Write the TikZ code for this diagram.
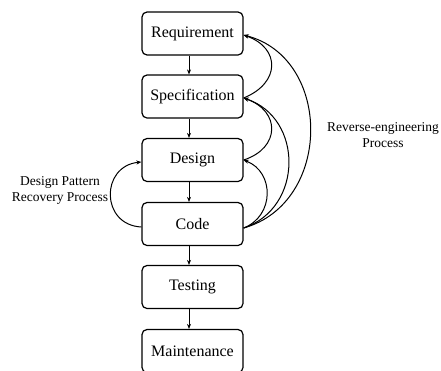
\documentclass[tikz,border=0pt]{standalone}
\usepackage{fontspec}
\setmainfont{Liberation Serif}
\usetikzlibrary{arrows.meta}
\begin{document}
\begin{tikzpicture}[x=1pt,y=-1pt,
  stage/.style={draw,line width=1.2pt,rounded corners=5pt,minimum width=101pt,minimum height=43pt,inner sep=0pt,font=\fontsize{16}{18}\selectfont},
  flow/.style={line width=1pt,-{Stealth[length=5pt,width=4pt]}},
  lbl/.style={align=center,font=\fontsize{13.5}{16}\selectfont}]
\useasboundingbox (0,0) rectangle (441,370);
\node[stage] (req) at (192.5,33.5) {Requirement};
\node[stage] (spec) at (192.5,96.5) {Specification};
\node[stage] (design) at (192.5,160) {Design};
\node[stage] (code) at (192.5,224) {Code};
\node[stage] (test) at (192.5,287) {Testing};
\node[stage] (maint) at (192.5,351) {Maintenance};
\foreach \a/\b in {req/spec,spec/design,design/code,code/test,test/maint}
  \draw[flow] ([xshift=-3.5pt]\a.south) -- ([xshift=-3.5pt]\b.north);
% right side reverse-engineering curves
\coordinate (cs) at ([yshift=-4pt]code.east);
\draw[flow] ([yshift=-1.5pt]spec.east) .. controls +(37,-15) and +(37,13) .. ([yshift=-1.5pt]req.east);
\draw[flow] (design.east) .. controls +(37,-12) and +(37,13) .. ([yshift=-1.5pt]spec.east);
\draw[flow] (cs) .. controls +(31,-12) and +(31,12) .. (design.east);
\draw[flow] (cs) .. controls +(60,-20) and +(60,20) .. ([yshift=-1.5pt]spec.east);
\draw[flow] (cs) .. controls +(89,-25) and +(89,23) .. ([yshift=-1.5pt]req.east);
% left side recovery curve
\draw[flow] ([yshift=-3pt]code.west) .. controls +(-41,-2) and +(-41,4) .. ([yshift=-2pt]design.west);
\node[lbl] (dprp) at (60,190) {Design Pattern\\Recovery Process};
\node[lbl] (rep) at (383,135) {Reverse-engineering\\Process};
\end{tikzpicture}
\end{document}
